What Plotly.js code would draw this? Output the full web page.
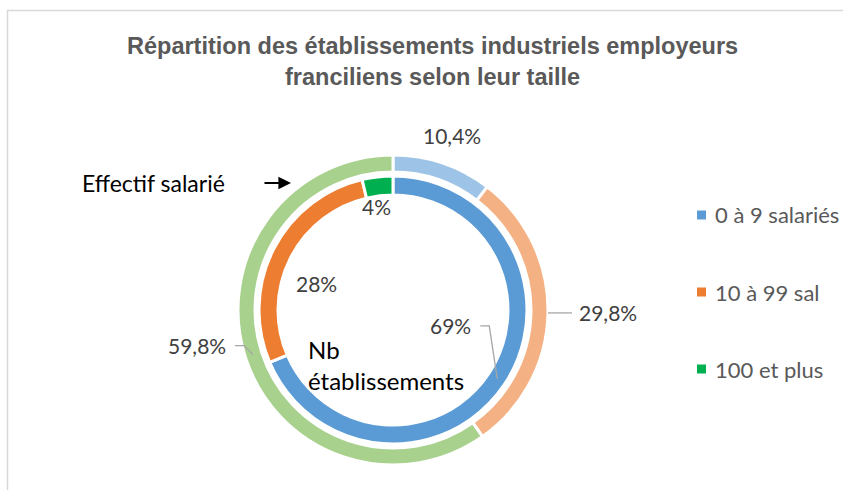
<!DOCTYPE html>
<html><head><meta charset="utf-8">
<script src="https://cdn.plot.ly/plotly-3.0.1.min.js"></script>
<style>html,body{margin:0;padding:0;background:#fff}#chart{width:843px;height:490px}</style>
</head><body><div id="chart"></div>
<script>
// ---- data ----
const categories = ["0 à 9 salariés", "10 à 99 sal", "100 et plus"];
const nbEtablissements = [68.6, 27.7, 3.7];   // inner ring, % of establishments
const effectifSalarie = [10.4, 29.8, 59.8];   // outer ring, % of employees
const innerColors = ["#5B9BD5", "#ED7D31", "#00B050"];
const outerColors = ["#9DC3E6", "#F4B183", "#A9D18E"];
const titleText = "Répartition des établissements industriels employeurs<br>franciliens selon leur taille";
const outerRingName = "Effectif salarié";
const innerRingName = "Nb<br>établissements";

// ---- geometry (pixels) ----
const W = 843, H = 490;
const cx = 393, cy = 310;
const outerR = 155, outerHole = 138, innerR = 134, innerHole = 115;
const px = x => x / W, py = y => 1 - y / H;
function domain(r) { return {x: [px(cx - r), px(cx + r)], y: [py(cy + r), py(cy - r)]}; }
function midAngles(vals) {
  const tot = vals.reduce((a, b) => a + b, 0); let c = 0;
  return vals.map(v => { const m = (c + v / 2) / tot * 2 * Math.PI; c += v; return m; });
}
function polar(a, r) { return [cx + r * Math.sin(a), cy - r * Math.cos(a)]; }
function pct(vals, dec) {
  const tot = vals.reduce((a, b) => a + b, 0);
  return vals.map(v => (v / tot * 100).toFixed(dec).replace('.', ',') + '%');
}

const labelFont = {family: "Lato, 'Open Sans', sans-serif", size: 21, color: "#404040"};
const leaderColor = "#A6A6A6";
const annotations = [], shapes = [];

// label placement styles
const outerStyle = [
  {r: 184, dx: 0, dy: 0, anchor: "center"},
  {r: outerR, leader: [[24, 0]], tdx: 29, tdy: 0, anchor: "left"},
  {r: 147, leader: [[-9, -9], [-18, -9]], tdx: -25, tdy: -9, anchor: "right"}
];
const innerStyle = [
  {r: 125, leader: [[-8, -53], [-17, -53]], tdx: -24, tdy: -53, anchor: "right"},
  {r: 80, dx: -5, dy: 10, anchor: "center"},
  {r: 104, dx: -4, dy: 0, anchor: "center"}
];
function addLabels(vals, dec, styles) {
  const angs = midAngles(vals), txt = pct(vals, dec);
  angs.forEach((a, i) => {
    const s = styles[i];
    const [x0, y0] = polar(a, s.r);
    let tx, ty;
    if (s.leader) {
      let path = `M ${px(x0)} ${py(y0)}`;
      s.leader.forEach(([dx, dy]) => { path += ` L ${px(x0 + dx)} ${py(y0 + dy)}`; });
      shapes.push({type: "path", xref: "paper", yref: "paper", path: path, line: {color: leaderColor, width: 1.3}});
      tx = x0 + s.tdx; ty = y0 + s.tdy;
    } else { tx = x0 + s.dx; ty = y0 + s.dy; }
    annotations.push({xref: "paper", yref: "paper", x: px(tx), y: py(ty), xanchor: s.anchor, yanchor: "middle",
      text: txt[i], showarrow: false, font: labelFont});
  });
}
addLabels(effectifSalarie, 1, outerStyle);
addLabels(nbEtablissements, 0, innerStyle);

// title
annotations.push({xref: "paper", yref: "paper", x: px(432), y: py(31), xanchor: "center", yanchor: "top", align: "center",
  text: "<b>" + titleText + "</b>", showarrow: false,
  font: {family: "'Liberation Sans', Arial, sans-serif", size: 23.5, color: "#595959"}});

// ring names
annotations.push({xref: "paper", yref: "paper", x: px(80), y: py(183), xanchor: "left", yanchor: "middle",
  text: outerRingName, showarrow: false, font: {family: "Lato, sans-serif", size: 23, color: "#000"}});
annotations.push({xref: "paper", yref: "paper", x: px(291), y: py(183), ax: -28, ay: 0, text: "", showarrow: true,
  arrowhead: 2, arrowsize: 1.4, arrowwidth: 1.8, arrowcolor: "#000"});
annotations.push({xref: "paper", yref: "paper", x: px(306), y: py(365), xanchor: "left", yanchor: "middle", align: "left",
  text: innerRingName, showarrow: false, font: {family: "Lato, sans-serif", size: 24, color: "#000"}});

// legend (manual, for item spacing)
const legendY = [215, 292, 369];
categories.forEach((c, i) => {
  shapes.push({type: "rect", xref: "paper", yref: "paper", x0: px(697), x1: px(706),
    y0: py(legendY[i] + 4.5), y1: py(legendY[i] - 4.5), fillcolor: innerColors[i], line: {width: 0}});
  annotations.push({xref: "paper", yref: "paper", x: px(713), y: py(legendY[i]), xanchor: "left", yanchor: "middle",
    text: c, showarrow: false, font: {family: "Lato, sans-serif", size: 22, color: "#595959"}});
});

// frame
shapes.push({type: "path", xref: "paper", yref: "paper",
  path: `M ${px(7.5)} ${py(500)} L ${px(7.5)} ${py(10.5)} L ${px(860)} ${py(10.5)}`,
  line: {color: "#D9D9D9", width: 1.5}});

const data = [
  {type: "pie", labels: categories, values: effectifSalarie, sort: false, direction: "clockwise", rotation: 0,
   hole: outerHole / outerR, domain: domain(outerR), marker: {colors: outerColors, line: {color: "#fff", width: 3}},
   textinfo: "none", showlegend: false, hoverinfo: "label+percent"},
  {type: "pie", labels: categories, values: nbEtablissements, sort: false, direction: "clockwise", rotation: 0,
   hole: innerHole / innerR, domain: domain(innerR), marker: {colors: innerColors, line: {color: "#fff", width: 3}},
   textinfo: "none", showlegend: false, hoverinfo: "label+percent"}
];

const layout = {
  width: W, height: H, margin: {l: 0, r: 0, t: 0, b: 0},
  paper_bgcolor: "#fff", separators: ", ",
  showlegend: false,
  annotations: annotations, shapes: shapes
};
Plotly.newPlot("chart", data, layout, {displayModeBar: false, staticPlot: true});
</script></body></html>
